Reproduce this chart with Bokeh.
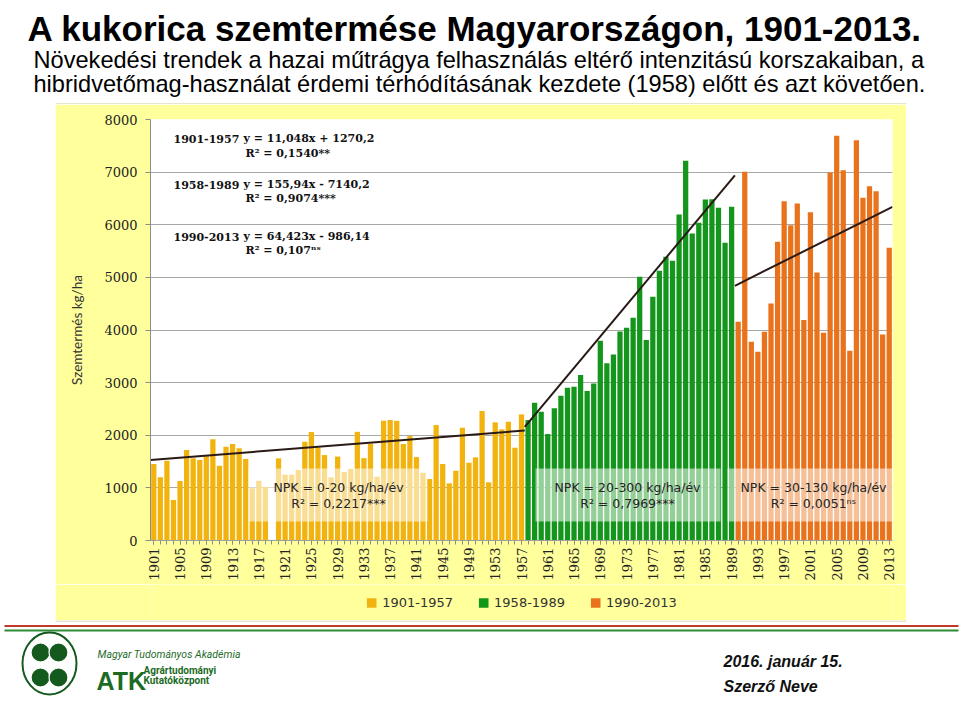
import math
from bokeh.plotting import figure
from bokeh.models import (Range1d, FixedTicker, Label, Legend, LegendItem,
                          BoxAnnotation, Spacer, ColumnDataSource)
from bokeh.layouts import column, row
from bokeh.embed import file_html
from bokeh.resources import INLINE

NAN = float("nan")

# ---------------- data ----------------
years_1901_1957 = list(range(1901, 1958))
yield_1901_1957 = [1453, 1200, 1516, 769, 1130, 1719, 1561, 1529, 1600, 1922,
                   1421, 1782, 1833, 1751, 1548, 991, 1136, 1022, NAN, 1561,
                   1250, 1250, 1340, 1877, 2061, 1770, 1624, 1200, 1595, 1300,
                   1360, 2065, 1565, 1840, 1212, 2276, 2289, 2273, 1833, 1985,
                   1585, 1288, 1168, 2194, 1453, 1086, 1326, 2143, 1478, 1580,
                   2460, 1105, 2245, 2112, 2257, 1763, 2397]
years_1958_1989 = list(range(1958, 1990))
yield_1958_1989 = [2289, 2617, 2447, 2023, 2511, 2751, 2903, 2922, 3144, 2840,
                   2985, 3796, 3366, 3536, 3973, 4042, 4232, 5011, 3808, 4631,
                   5125, 5391, 5315, 6196, 7214, 5835, 6037, 6480, 6486, 6321,
                   5657, 6340]
years_1990_2013 = list(range(1990, 2014))
yield_1990_2013 = [4156, 7005, 3776, 3586, 3966, 4504, 5676, 6448, 5992, 6404,
                   4188, 6239, 5093, 3947, 6993, 7689, 7037, 3605, 7607, 6511,
                   6733, 6638, 3916, 5561]

period_labels = ["1901-1957", "1958-1989", "1990-2013"]
trend_x = [[1900.5, 1957.5], [1957.5, 1989.5], [1989.5, 2013.5]]
trend_y = [[1530, 2090], [2160, 6940], [4840, 6340]]
equations = ["y = 11,048x + 1270,2", "y = 155,94x - 7140,2", "y = 64,423x - 986,14"]
r2_equations = ["R² = 0,1540**", "R² = 0,9074***", "R² = 0,107ⁿˢ"]
npk_texts = ["NPK = 0-20 kg/ha/év", "NPK = 20-300 kg/ha/év", "NPK = 30-130 kg/ha/év"]
npk_r2 = ["R² = 0,2217***", "R² = 0,7969***", "R² = 0,0051ⁿˢ"]
y_ticks = list(range(0, 8001, 1000))
x_label_ticks = list(range(1901, 2014, 4))
all_years = list(range(1901, 2014))

title_text = "A kukorica szemtermése Magyarországon, 1901-2013."
subtitle_1 = "Növekedési trendek a hazai műtrágya felhasználás eltérő intenzitású korszakaiban, a"
subtitle_2 = "hibridvetőmag-használat érdemi térhódításának kezdete (1958) előtt és azt követően."
y_title = "Szemtermés kg/ha"
date_text = "2016. január 15."
author_text = "Szerző Neve"

colors = ["#F2B30E", "#13961B", "#E8731C"]
YELLOW = "#FFFF9C"
BOX_EDGE = "#CFCB9E"

W = 960

# ---------------- header (page y 0..104) ----------------
HH = 104
header = figure(width=W, height=HH, x_range=Range1d(0, W), y_range=Range1d(0, HH),
                x_axis_type=None, y_axis_type=None, min_border=0,
                toolbar_location=None, output_backend="svg",
                outline_line_color=None, background_fill_color="white",
                border_fill_color="white")
header.grid.visible = False
header.add_layout(Label(x=27, y=HH - 28, text=title_text, text_font="Liberation Sans",
                        text_font_style="bold", text_font_size="35px",
                        text_color="#000000", text_baseline="alphabetic"))
header.add_layout(Label(x=33, y=HH - 59.5, text=subtitle_1, text_font="Liberation Sans",
                        text_font_size="23.6px", text_color="#000000",
                        text_baseline="alphabetic"))
header.add_layout(Label(x=33, y=HH - 83.5, text=subtitle_2, text_font="Liberation Sans",
                        text_font_size="23.6px", text_color="#000000",
                        text_baseline="alphabetic"))
header.line(x=[55, 906], y=[0.5, 0.5], line_color=BOX_EDGE, line_width=1)

# ---------------- chart (page x 55..906, y 104..584) ----------------
CX0, CY0 = 55, 104
CW = 851
BL, BR, BT, BB = 95, 14, 15, 44
F_LEFT = CX0 + BL
F_BOTTOM = 540
CH = F_BOTTOM - CY0 + BB
FW = CW - BL - BR
FH = CH - BT - BB


def X(px):
    return 1900.5 + (px - F_LEFT) * 113.0 / FW


def Y(py):
    return (F_BOTTOM - py) * 8000.0 / FH


p = figure(width=CW, height=CH, x_range=Range1d(1900.5, 2013.5), y_range=Range1d(0, 8000),
           toolbar_location=None, output_backend="svg",
           min_border_left=BL, min_border_right=BR, min_border_top=BT, min_border_bottom=BB,
           border_fill_color=YELLOW, background_fill_color="white",
           outline_line_color=None)

p.xgrid.grid_line_color = None
p.ygrid.grid_line_color = "#A8A8A8"
p.ygrid.grid_line_width = 1

p.yaxis.ticker = FixedTicker(ticks=y_ticks)
p.yaxis.major_label_text_font = "DejaVu Serif"
p.yaxis.major_label_text_font_size = "13px"
p.yaxis.major_label_text_color = "#222222"
p.yaxis.axis_line_color = "#8C8C8C"
p.yaxis.major_tick_line_color = "#8C8C8C"
p.yaxis.major_tick_out = 5
p.yaxis.major_tick_in = 0
p.yaxis.minor_tick_line_color = None
p.yaxis.major_label_standoff = 8
p.yaxis.axis_label = y_title
p.yaxis.axis_label_text_font = "Lato"
p.yaxis.axis_label_text_font_size = "13.5px"
p.yaxis.axis_label_text_font_style = "normal"
p.yaxis.axis_label_text_color = "#333333"
p.yaxis.axis_label_standoff = 16

p.xaxis.ticker = FixedTicker(ticks=x_label_ticks, minor_ticks=all_years)
p.xaxis.major_label_orientation = math.pi / 2
p.xaxis.major_label_text_font = "DejaVu Serif"
p.xaxis.major_label_text_font_size = "13px"
p.xaxis.major_label_text_color = "#222222"
p.xaxis.axis_line_color = "#A0A0A0"
p.xaxis.major_tick_line_color = "#8C8C8C"
p.xaxis.minor_tick_line_color = "#8C8C8C"
p.xaxis.major_tick_out = 4
p.xaxis.major_tick_in = 0
p.xaxis.minor_tick_out = 4
p.xaxis.minor_tick_in = 0
p.xaxis.major_label_standoff = 3

series = [(years_1901_1957, yield_1901_1957), (years_1958_1989, yield_1958_1989),
          (years_1990_2013, yield_1990_2013)]
for (yrs, vals), col in zip(series, colors):
    src = ColumnDataSource(dict(x=yrs, top=vals))
    p.vbar(x="x", top="top", width=0.8, source=src, fill_color=col, line_color=None)

for tx, ty in zip(trend_x, trend_y):
    p.line(x=tx, y=ty, line_color="#2A1A16", line_width=2)

# semi-transparent boxes with NPK notes
box_px = [(248, 427, 338), (535, 720, 627), (727, 897, 813)]
for (l, r_, c), t1, t2 in zip(box_px, npk_texts, npk_r2):
    p.add_layout(BoxAnnotation(left=X(l), right=X(r_), bottom=Y(521), top=Y(468),
                               fill_color="white", fill_alpha=0.55, line_color=None))
    p.add_layout(Label(x=X(c), y=Y(487), text=t1, text_align="center", text_baseline="middle",
                       text_font="DejaVu Sans", text_font_size="12.5px", text_color="#262626"))
    p.add_layout(Label(x=X(c), y=Y(503), text=t2, text_align="center", text_baseline="middle",
                       text_font="DejaVu Sans", text_font_size="12.5px", text_color="#262626"))

# regression equations
eq_rows = [(138, 153), (184, 198), (236, 250)]
for (y1, y2), per, eq, r2 in zip(eq_rows, period_labels, equations, r2_equations):
    p.add_layout(Label(x=X(173), y=Y(y1), text=per, text_baseline="middle",
                       text_font="DejaVu Serif", text_font_style="bold",
                       text_font_size="11px", text_color="#111111"))
    p.add_layout(Label(x=X(243), y=Y(y1), text=eq, text_baseline="middle",
                       text_font="DejaVu Serif", text_font_style="bold",
                       text_font_size="11px", text_color="#111111"))
    p.add_layout(Label(x=X(245), y=Y(y2), text=r2, text_baseline="middle",
                       text_font="DejaVu Serif", text_font_style="bold",
                       text_font_size="11px", text_color="#111111"))

# ---------------- legend strip (page y 584..620), part of the yellow box ----------------
LH = 620 - (CY0 + CH)
leg_fig = figure(width=CW, height=LH, x_range=Range1d(0, CW), y_range=Range1d(0, LH),
                 x_axis_type=None, y_axis_type=None, min_border=0,
                 toolbar_location=None, output_backend="svg",
                 outline_line_color=None, background_fill_color=YELLOW,
                 border_fill_color=YELLOW)
leg_fig.grid.visible = False
leg_renderers = []
for col in colors:
    # legend proxies: a single off-frame bar so that the legend swatch gets its colour
    leg_renderers.append(leg_fig.vbar(x=[-100], top=[0], width=0.8,
                                      fill_color=col, line_color=None))
legend = Legend(items=[LegendItem(label=lab, renderers=[r]) for lab, r in zip(period_labels, leg_renderers)],
                orientation="horizontal", location="center", margin=0, padding=0,
                spacing=24, label_standoff=5, glyph_width=12, glyph_height=12,
                label_text_font="DejaVu Sans", label_text_font_size="13px",
                label_text_color="#333333", background_fill_alpha=0,
                border_line_color=None)
leg_fig.add_layout(legend)

# ---------------- footer (page y 620..701) ----------------
FHH = 81
footer = figure(width=W, height=FHH, x_range=Range1d(0, W), y_range=Range1d(0, FHH),
                x_axis_type=None, y_axis_type=None, min_border=0,
                toolbar_location=None, output_backend="svg",
                outline_line_color=None, background_fill_color="white",
                border_fill_color="white")
footer.grid.visible = False


def FY(py):
    return 701 - py


footer.line(x=[55, 906], y=[FY(620.5)] * 2, line_color=BOX_EDGE, line_width=1)
footer.line(x=[4, 958], y=[FY(625.5)] * 2, line_color="#C0392B", line_width=2)
footer.line(x=[4, 958], y=[FY(630)] * 2, line_color="#2E8B35", line_width=2)
footer.ellipse(x=[49], y=[FY(663)], width=[54], height=[62], fill_color=None,
               line_color="#145A1E", line_width=2)
footer.circle(x=[40, 58, 40, 58], y=[FY(652), FY(652), FY(677), FY(677)], radius=9.5,
              fill_color="#145A1E", line_color="white", line_width=1.2)
footer.add_layout(Label(x=97, y=FY(654), text="Magyar Tudományos Akadémia", text_baseline="middle",
                        text_font="Roboto", text_font_style="italic", text_font_size="10.5px",
                        text_color="#1E6B2A"))
footer.add_layout(Label(x=96, y=FY(680), text="ATK", text_baseline="alphabetic",
                        text_font="Liberation Sans", text_font_style="bold",
                        text_font_size="25px", text_color="#1B6B24"))
footer.add_layout(Label(x=143, y=FY(670), text="Agrártudományi", text_baseline="alphabetic",
                        text_font="Roboto", text_font_style="bold", text_font_size="10px",
                        text_color="#1B6B24"))
footer.add_layout(Label(x=143, y=FY(680), text="Kutatóközpont", text_baseline="alphabetic",
                        text_font="Roboto", text_font_style="bold", text_font_size="10px",
                        text_color="#1B6B24"))
footer.add_layout(Label(x=723, y=FY(661), text=date_text, text_baseline="alphabetic",
                        text_font="Liberation Sans", text_font_style="bold italic",
                        text_font_size="16px", text_color="#111111"))
footer.add_layout(Label(x=723, y=FY(686), text=author_text, text_baseline="alphabetic",
                        text_font="Liberation Sans", text_font_style="bold italic",
                        text_font_size="16px", text_color="#111111"))

layout = column(header,
                row(Spacer(width=CX0, height=CH + LH), column(p, leg_fig)),
                footer)

open("out.html", "w").write(file_html(layout, INLINE))
